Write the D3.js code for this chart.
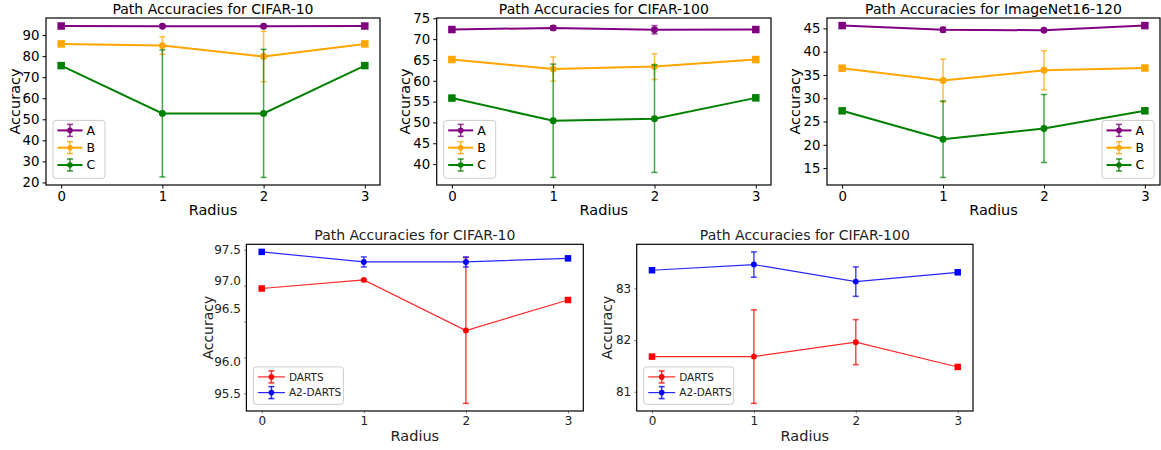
<!DOCTYPE html>
<html>
<head>
<meta charset="utf-8">
<script src="https://cdn.jsdelivr.net/npm/d3@7"></script>
<style>
  body { margin: 0; background: #fff; }
  svg { font-family: "DejaVu Sans", sans-serif; }
</style>
</head>
<body>
<script>
var radius = [0, 1, 2, 3];
var topNames = ['A', 'B', 'C'];
var topColors = ['#800080', '#ffa500', '#008000'];
var bottomNames = ['DARTS', 'A2-DARTS'];
var bottomColors = ['#ff0000', '#0000ff'];

// top row: path accuracies per radius
var c10A = [94.3, 94.2, 94.2, 94.3], c10AErr = [0, 0.3, 0.3, 0];
var c10B = [85.8, 85.0, 79.8, 85.8], c10BErr = [0, 4.2, 12.0, 0];
var c10C = [75.5, 52.8, 52.8, 75.5], c10CErr = [0, 30.2, 30.4, 0];

var c100A = [72.3, 72.7, 72.25, 72.3], c100AErr = [0, 0.5, 1.0, 0];
var c100B = [65.1, 62.8, 63.4, 65.1], c100BErr = [0, 2.9, 3.1, 0];
var c100C = [55.85, 50.4, 50.9, 55.9], c100CErr = [0, 13.6, 12.9, 0];

var imA = [45.6, 44.7, 44.6, 45.6], imAErr = [0, 0.5, 0.3, 0];
var imB = [36.45, 33.8, 36.0, 36.5], imBErr = [0, 4.6, 4.2, 0];
var imC = [27.3, 21.2, 23.5, 27.3], imCErr = [0, 8.2, 7.3, 0];

// bottom row: DARTS vs A2-DARTS
var dC10 = [96.96, 97.08, 96.375, 96.80], dC10Err = [0, 0.01, 1.015, 0];
var aC10 = [97.47, 97.33, 97.33, 97.38], aC10Err = [0, 0.07, 0.07, 0];
var dC100 = [81.68, 81.68, 81.96, 81.48], dC100Err = [0, 0.905, 0.435, 0];
var aC100 = [83.35, 83.46, 83.13, 83.31], aC100Err = [0, 0.245, 0.285, 0];

var ticksC10 = [20, 30, 40, 50, 60, 70, 80, 90];
var ticksC100 = [40, 45, 50, 55, 60, 65, 70, 75];
var ticksIm = [15, 20, 25, 30, 35, 40, 45];
var ticksDC10 = [95.5, 96.0, 96.5, 97.0, 97.5];
var ticksDC100 = [81, 82, 83];

var svg = d3.select('body').append('svg')
  .attr('width', 1161)
  .attr('height', 450);

function makeSeries(names, colors, vals, errs) {
  return names.map(function(n, i) {
    return { name: n, color: colors[i], values: vals[i], errors: errs[i] };
  });
}

function drawPanel(p) {
  var s = p.small ? {
    lw: 1.2, ms: 6.5, tickSize: 2.5, tickColor: '#888', tickFont: 12, textColor: '#222',
    legFont: 10.5, handle: 27, rowH: 15.7, labFont: 14
  } : {
    lw: 2, ms: 7.5, tickSize: 3.5, tickColor: '#000', tickFont: 13.3, textColor: '#000',
    legFont: 12.5, handle: 25, rowH: 17.3, labFont: 14.5
  };

  var x = d3.scaleLinear().domain([-0.15, 3.15]).range([p.left, p.right]);

  var lo = d3.min(p.series, function(d) { return d3.min(d.values, function(v, i) { return v - d.errors[i]; }); });
  var hi = d3.max(p.series, function(d) { return d3.max(d.values, function(v, i) { return v + d.errors[i]; }); });
  var pad = (hi - lo) * 0.05;
  var y = d3.scaleLinear().domain([lo - pad, hi + pad]).range([p.bottom, p.top]);

  var g = svg.append('g');

  // axes
  var xa = g.append('g')
    .attr('transform', 'translate(0,' + p.bottom + ')')
    .call(d3.axisBottom(x).tickValues(radius).tickSize(s.tickSize).tickPadding(3).tickFormat(d3.format('d')));
  var ya = g.append('g')
    .attr('transform', 'translate(' + p.left + ',0)')
    .call(d3.axisLeft(y).tickValues(p.ticks).tickSize(s.tickSize).tickPadding(3)
      .tickFormat(p.small && p.ticks[0] % 1 ? d3.format('.1f') : d3.format('d')));
  [xa, ya].forEach(function(a) {
    a.select('.domain').remove();
    a.selectAll('line').attr('stroke', s.tickColor);
    a.selectAll('text').attr('font-size', s.tickFont).attr('fill', s.textColor)
      .attr('font-family', '"DejaVu Sans", sans-serif');
  });
  if (p.labelShift) {
    ya.selectAll('text').attr('dy', function(d) {
      return (0.32 * s.tickFont + (p.labelShift[d] || 0)) + 'px';
    });
  }

  g.append('rect')
    .attr('x', p.left).attr('y', p.top)
    .attr('width', p.right - p.left).attr('height', p.bottom - p.top)
    .attr('fill', 'none').attr('stroke', '#000').attr('stroke-width', 1.2);

  // titles
  var cx = (p.left + p.right) / 2;
  g.append('text').attr('x', cx).attr('y', p.top - 4)
    .attr('text-anchor', 'middle').attr('font-size', 14).attr('fill', s.textColor)
    .text(p.title);
  g.append('text').attr('x', cx).attr('y', p.bottom + 30)
    .attr('text-anchor', 'middle').attr('font-size', 14.5).attr('fill', s.textColor)
    .text('Radius');
  g.append('text')
    .attr('transform', 'translate(' + p.ylabX + ',' + ((p.top + p.bottom) / 2) + ') rotate(-90)')
    .attr('text-anchor', 'middle').attr('dy', '0.35em').attr('font-size', s.labFont).attr('fill', s.textColor)
    .text('Accuracy');

  var line = d3.line()
    .x(function(d, i) { return x(radius[i]); })
    .y(function(d) { return y(d); });

  p.series.forEach(function(sr) {
    var sg = g.append('g');
    sg.append('path')
      .attr('d', line(sr.values))
      .attr('fill', 'none').attr('stroke', sr.color).attr('stroke-width', s.lw)
      .attr('stroke-opacity', p.small ? 0.85 : 1);

    sr.values.forEach(function(v, i) {
      var px = x(radius[i]), py = y(v);
      if (i === 0 || i === radius.length - 1) {
        sg.append('rect')
          .attr('x', px - s.ms / 2).attr('y', py - s.ms / 2)
          .attr('width', s.ms).attr('height', s.ms)
          .attr('fill', sr.color);
      } else {
        sg.append('circle').attr('cx', px).attr('cy', py).attr('r', s.ms / 2 - 0.3)
          .attr('fill', sr.color);
      }
      var e = sr.errors[i];
      if (e > 0) {
        var eg = sg.append('g').attr('stroke', sr.color).attr('stroke-width', 1.5)
          .attr('stroke-opacity', 0.72);
        eg.append('line').attr('x1', px).attr('x2', px).attr('y1', y(v - e)).attr('y2', y(v + e));
        eg.append('line').attr('x1', px - 3).attr('x2', px + 3).attr('y1', y(v - e)).attr('y2', y(v - e));
        eg.append('line').attr('x1', px - 3).attr('x2', px + 3).attr('y1', y(v + e)).attr('y2', y(v + e));
      }
    });
  });

  // legend
  var lw = p.small ? 90 : 52;
  var lh = p.series.length * s.rowH + 6;
  var lx = p.legendRight ? p.right - 6 - lw : p.left + 7;
  var ly = p.bottom - 6.7 - lh;
  var lg = g.append('g').attr('transform', 'translate(' + lx + ',' + ly + ')');
  lg.append('rect').attr('width', lw).attr('height', lh).attr('rx', 3)
    .attr('fill', '#fff').attr('fill-opacity', 0.8).attr('stroke', '#ccc');
  p.series.forEach(function(sr, i) {
    var yy = 10 + i * s.rowH;
    var hx0 = 4.5, hx1 = 4.5 + s.handle, hm = (hx0 + hx1) / 2;
    var row = lg.append('g').attr('stroke', sr.color);
    row.append('line').attr('x1', hx0).attr('x2', hx1).attr('y1', yy).attr('y2', yy)
      .attr('stroke-width', s.lw).attr('stroke-opacity', p.small ? 0.85 : 1);
    row.append('line').attr('x1', hm).attr('x2', hm).attr('y1', yy - 6).attr('y2', yy + 6)
      .attr('stroke-width', 1.5).attr('stroke-opacity', 0.8);
    row.append('line').attr('x1', hm - 3).attr('x2', hm + 3).attr('y1', yy - 6).attr('y2', yy - 6)
      .attr('stroke-width', 1.5).attr('stroke-opacity', 0.8);
    row.append('line').attr('x1', hm - 3).attr('x2', hm + 3).attr('y1', yy + 6).attr('y2', yy + 6)
      .attr('stroke-width', 1.5).attr('stroke-opacity', 0.8);
    lg.append('circle').attr('cx', hm).attr('cy', yy).attr('r', 2.8).attr('fill', sr.color);
    lg.append('text').attr('x', hx1 + 4).attr('y', yy).attr('dy', '0.36em')
      .attr('font-size', s.legFont).attr('fill', s.textColor).text(sr.name);
  });
}

drawPanel({
  title: 'Path Accuracies for CIFAR-10', left: 46, right: 380, top: 18, bottom: 185, ylabX: 15,
  ticks: ticksC10, legendRight: false,
  series: makeSeries(topNames, topColors, [c10A, c10B, c10C], [c10AErr, c10BErr, c10CErr])
});
drawPanel({
  title: 'Path Accuracies for CIFAR-100', left: 436.7, right: 771, top: 18, bottom: 185, ylabX: 405,
  ticks: ticksC100, legendRight: false,
  series: makeSeries(topNames, topColors, [c100A, c100B, c100C], [c100AErr, c100BErr, c100CErr])
});
drawPanel({
  title: 'Path Accuracies for ImageNet16-120', left: 827, right: 1160, top: 18, bottom: 185, ylabX: 795,
  ticks: ticksIm, legendRight: true,
  series: makeSeries(topNames, topColors, [imA, imB, imC], [imAErr, imBErr, imCErr])
});
drawPanel({
  title: 'Path Accuracies for CIFAR-10', left: 246.4, right: 583.3, top: 244.3, bottom: 411, ylabX: 208,
  ticks: ticksDC10, legendRight: false, small: true,
  labelShift: { 97: -5, 96.5: -13, 96: 4 },
  series: makeSeries(bottomNames, bottomColors, [dC10, aC10], [dC10Err, aC10Err])
});
drawPanel({
  title: 'Path Accuracies for CIFAR-100', left: 636.7, right: 973, top: 244.3, bottom: 411, ylabX: 607,
  ticks: ticksDC100, legendRight: false, small: true,
  series: makeSeries(bottomNames, bottomColors, [dC100, aC100], [dC100Err, aC100Err])
});
</script>
</body>
</html>
